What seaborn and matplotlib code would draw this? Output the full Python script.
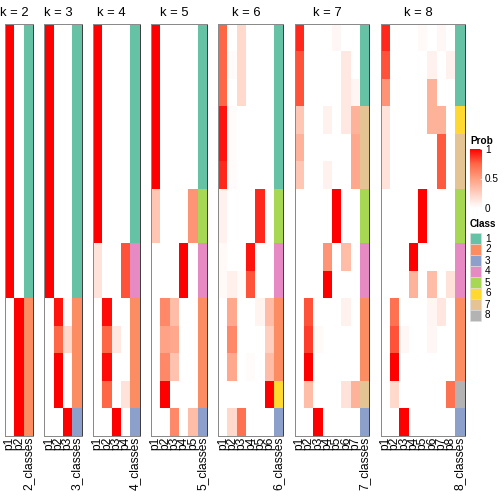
import numpy as np
import pandas as pd
import matplotlib
matplotlib.use("Agg")
import matplotlib.pyplot as plt
import seaborn as sns
from matplotlib.colors import LinearSegmentedColormap, ListedColormap
from matplotlib.patches import Rectangle
from matplotlib.transforms import blended_transform_factory

plt.rcParams['font.family'] = ['Liberation Sans', 'DejaVu Sans']

# membership probabilities, one list per column p1..pk (15 samples, top to bottom)
prob_k2 = [
    [1, 1, 1, 1, 1, 1, 1, 1, 1, 1, 0, 0, 0, 0, 0],
    [0, 0, 0, 0, 0, 0, 0, 0, 0, 0, 1, 1, 1, 1, 1],
]
prob_k3 = [
    [1, 1, 1, 1, 1, 1, 1, 1, 1, 1, 0, 0, 0, 0, 0],
    [0, 0, 0, 0, 0, 0, 0, 0, 0, 0, 0.95, 0.75, 1, 1, 0],
    [0, 0, 0, 0, 0, 0, 0, 0, 0, 0, 0.02, 0.2, 0, 0, 1],
]
prob_k4 = [
    [1, 1, 1, 1, 1, 1, 1, 1, 0.15, 0.15, 0, 0, 0, 0, 0],
    [0, 0, 0, 0, 0, 0, 0, 0, 0, 0, 0.97, 0.75, 0.97, 0.75, 0],
    [0, 0, 0, 0, 0, 0, 0, 0, 0, 0, 0, 0.12, 0, 0, 1],
    [0, 0, 0, 0, 0, 0, 0, 0, 0.8, 0.8, 0, 0, 0, 0.15, 0],
]
prob_k5 = [
    [1, 1, 1, 1, 1, 1, 0.3, 0.3, 0, 0, 0, 0, 0, 0, 0],
    [0, 0, 0, 0, 0, 0, 0, 0, 0, 0, 0.6, 0.48, 0.6, 1, 0],
    [0, 0, 0, 0, 0, 0, 0, 0, 0, 0, 0.35, 0.45, 0.32, 0, 0.6],
    [0, 0, 0, 0, 0, 0, 0, 0, 1, 1, 0, 0, 0, 0, 0],
    [0, 0, 0, 0, 0, 0, 0.55, 0.55, 0, 0, 0, 0, 0, 0, 0.35],
]
prob_k6 = [
    [0.75, 0.75, 0.75, 0.95, 0.95, 0.9, 0.07, 0.07, 0.03, 0.03, 0, 0, 0, 0, 0],
    [0, 0.02, 0, 0.02, 0.02, 0.02, 0, 0, 0, 0.08, 0.45, 0.6, 0.45, 0, 0.2],
    [0.2, 0.2, 0.2, 0, 0, 0, 0, 0, 0, 0.02, 0, 0, 0, 0, 0.7],
    [0, 0, 0, 0, 0, 0, 0, 0, 0.95, 0.8, 0, 0, 0.02, 0, 0],
    [0, 0, 0, 0, 0, 0, 0.9, 0.9, 0, 0, 0.06, 0, 0, 0, 0],
    [0, 0, 0, 0, 0, 0, 0, 0, 0, 0, 0.35, 0.25, 0.35, 1, 0],
]
prob_k7 = [
    [0.9, 0.8, 0.8, 0.3, 0.4, 0.3, 0, 0, 0, 0, 0, 0, 0, 0, 0],
    [0, 0, 0, 0, 0, 0, 0, 0, 0, 0, 0.8, 0.85, 1, 0.35, 0],
    [0, 0, 0, 0, 0, 0, 0, 0, 0, 0, 0, 0.03, 0, 0, 1],
    [0, 0, 0, 0.07, 0, 0.07, 0, 0, 0.55, 1, 0, 0, 0, 0, 0],
    [0.04, 0, 0, 0, 0, 0, 1, 1, 0, 0, 0, 0, 0, 0, 0],
    [0, 0.12, 0.12, 0.12, 0, 0, 0, 0, 0.35, 0, 0.07, 0, 0, 0.15, 0],
    [0, 0, 0.05, 0.4, 0.45, 0.45, 0, 0, 0, 0, 0, 0, 0, 0.4, 0],
]
prob_k8 = [
    [0.9, 0.8, 0.55, 0.15, 0.15, 0.15, 0, 0, 0, 0, 0, 0, 0, 0, 0],
    [0, 0, 0, 0, 0, 0, 0, 0, 0, 0, 0.7, 0.8, 1, 0.2, 0],
    [0, 0, 0, 0, 0, 0, 0, 0, 0, 0, 0, 0.04, 0, 0, 1],
    [0, 0, 0, 0, 0, 0, 0, 0, 1, 0.4, 0, 0, 0, 0, 0],
    [0.03, 0, 0, 0, 0, 0, 1, 1, 0, 0, 0, 0, 0, 0, 0],
    [0, 0.07, 0.4, 0.4, 0, 0, 0, 0, 0, 0.35, 0.05, 0.04, 0, 0, 0],
    [0.04, 0, 0, 0.4, 0.78, 0.78, 0, 0, 0, 0, 0.13, 0, 0, 0, 0],
    [0, 0.07, 0, 0, 0, 0, 0, 0, 0, 0.15, 0, 0, 0, 0.7, 0],
]

# predicted class per sample
class_k2 = [1, 1, 1, 1, 1, 1, 1, 1, 1, 1, 2, 2, 2, 2, 2]
class_k3 = [1, 1, 1, 1, 1, 1, 1, 1, 1, 1, 2, 2, 2, 2, 3]
class_k4 = [1, 1, 1, 1, 1, 1, 1, 1, 4, 4, 2, 2, 2, 2, 3]
class_k5 = [1, 1, 1, 1, 1, 1, 5, 5, 4, 4, 2, 2, 2, 2, 3]
class_k6 = [1, 1, 1, 1, 1, 1, 5, 5, 4, 4, 2, 2, 2, 6, 3]
class_k7 = [1, 1, 1, 7, 7, 7, 5, 5, 4, 4, 2, 2, 2, 7, 3]
class_k8 = [1, 1, 1, 6, 7, 7, 5, 5, 4, 4, 2, 2, 2, 8, 3]

k_values = [2, 3, 4, 5, 6, 7, 8]
probs = [prob_k2, prob_k3, prob_k4, prob_k5, prob_k6, prob_k7, prob_k8]
classes = [class_k2, class_k3, class_k4, class_k5, class_k6, class_k7, class_k8]

class_labels = ['1', '2', '3', '4', '5', '6', '7', '8']
class_colors = ['#66C2A5', '#FC8D62', '#8DA0CB', '#E78AC3',
                '#A6D854', '#FFD92F', '#E5C494', '#B3B3B3']

prob_cmap = LinearSegmentedColormap.from_list(
    'prob', [(0, '#FFFFFF'), (0.25, '#FFCFBF'), (0.5, '#FF9E81'),
             (0.75, '#FF6746'), (1, '#FF0000')])
class_cmap = ListedColormap(class_colors)

W = H = 504
fig = plt.figure(figsize=(7, 7), dpi=72)

top, bottom = 24, 435.5
col_w = 9.33
gap = 11.3
x = 5.0
for k, prob, cls in zip(k_values, probs, classes):
    ncol = k + 1
    w = ncol * col_w
    ax = fig.add_axes([x / W, 1 - bottom / H, w / W, (bottom - top) / H])

    cols = [f'p{i + 1}' for i in range(k)] + [f'{k}_classes']
    df = pd.DataFrame(np.column_stack(prob + [cls]), columns=cols)
    mask_prob = np.zeros(df.shape, dtype=bool)
    mask_prob[:, -1] = True
    sns.heatmap(df, mask=mask_prob, cmap=prob_cmap, vmin=0, vmax=1,
                cbar=False, ax=ax, yticklabels=False)
    sns.heatmap(df, mask=~mask_prob, cmap=class_cmap, vmin=0.5, vmax=8.5,
                cbar=False, ax=ax, yticklabels=False)

    ax.set_xticks(np.arange(ncol) + 0.5)
    ax.set_xticklabels(cols, rotation=90, fontsize=12, va='top', ha='center')
    ax.tick_params(axis='x', length=0, pad=1)
    ax.tick_params(axis='y', length=0)
    ax.set_xlabel('')
    ax.set_ylabel('')
    for side, sp in ax.spines.items():
        sp.set_visible(True)
        sp.set_color('#8a8a8a' if side != 'right' else '#404040')
        sp.set_linewidth(1.0)

    trans = blended_transform_factory(ax.transData, ax.transAxes)
    ax.text(k / 2, 1 + 8 / (bottom - top), f'k = {k}', transform=trans,
            ha='center', va='baseline', fontsize=13)

    x += w + gap

# Prob legend
fig.text(470 / W, 1 - 141 / H, 'Prob', fontweight='bold', fontsize=10,
         ha='left', va='center')
cax = fig.add_axes([470 / W, 1 - 208 / H, 12 / W, 59 / H])
sm = plt.cm.ScalarMappable(cmap=prob_cmap, norm=plt.Normalize(0, 1))
cb = fig.colorbar(sm, cax=cax, ticks=[0, 0.5, 1])
cb.outline.set_visible(False)
cb.ax.set_yticklabels(['0', '0.5', '1'])
cb.ax.tick_params(labelsize=10, length=2, color='white', direction='in', pad=3)

# Class legend
leg_ax = fig.add_axes([470 / W, 1 - 325 / H, 34 / W, 107 / H])
leg_ax.set_xlim(0, 34)
leg_ax.set_ylim(107, 0)
leg_ax.axis('off')
leg_ax.text(0, 6, 'Class', fontweight='bold', fontsize=10, va='center')
for i, (lab, col) in enumerate(zip(class_labels, class_colors)):
    y0 = 15 + i * 11
    leg_ax.add_patch(Rectangle((0, y0), 11, 10.5, facecolor=col,
                               edgecolor='#dddddd', lw=0.6))
    leg_ax.text(15, y0 + 5.5, lab, va='center', fontsize=10)

fig.savefig('out.png', dpi=72)
